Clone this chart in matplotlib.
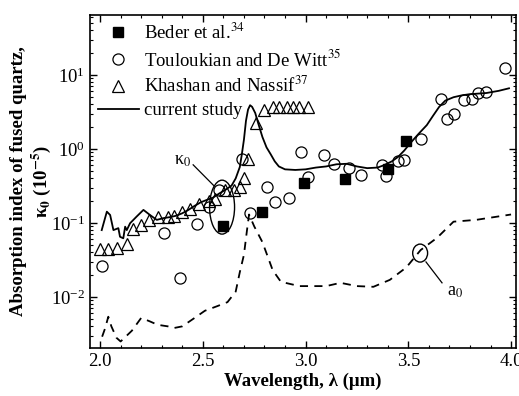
# Imports
import numpy as np
import matplotlib
matplotlib.use('Agg')
import matplotlib.pyplot as plt
from matplotlib.patches import Ellipse
from matplotlib.ticker import LogLocator, MultipleLocator, NullFormatter

# Data
beder_x = [2.60, 2.79, 2.99, 3.19, 3.40, 3.49]
beder_y = [0.091, 0.14, 0.35, 0.39, 0.54, 1.28]

toul_x = [2.01, 2.31, 2.39, 2.47, 2.53, 2.58, 2.69, 2.73, 2.81, 2.85, 2.92, 2.98, 3.01,
          3.09, 3.14, 3.21, 3.27, 3.37, 3.39, 3.45, 3.48, 3.56, 3.66, 3.69, 3.72, 3.77,
          3.81, 3.84, 3.88, 3.97]
toul_y = [0.026, 0.073, 0.018, 0.098, 0.166, 0.28, 0.73, 0.137, 0.31, 0.19, 0.22, 0.91, 0.42,
          0.83, 0.63, 0.55, 0.44, 0.60, 0.43, 0.69, 0.71, 1.36, 4.8, 2.5, 2.96, 4.6,
          4.8, 5.7, 5.9, 12.4]

khas_x = [2.00, 2.04, 2.08, 2.13, 2.16, 2.20, 2.24, 2.28, 2.33, 2.36, 2.40, 2.44, 2.48,
          2.53, 2.56, 2.61, 2.65, 2.68, 2.70, 2.72, 2.76, 2.80, 2.84, 2.87, 2.91, 2.94,
          2.97, 3.01]
khas_y = [0.045, 0.045, 0.046, 0.052, 0.083, 0.094, 0.11, 0.12, 0.12, 0.126, 0.14, 0.155, 0.18,
          0.20, 0.21, 0.28, 0.28, 0.31, 0.41, 0.73, 2.24, 3.4, 3.7, 3.7, 3.7, 3.7,
          3.7, 3.7]

study_x = [2.008, 2.033, 2.049, 2.065, 2.089, 2.097, 2.113, 2.122, 2.13, 2.146, 2.178, 2.211,
           2.243, 2.276, 2.308, 2.341, 2.37, 2.40, 2.43, 2.46, 2.49, 2.52, 2.55, 2.58, 2.61,
           2.64, 2.66, 2.68, 2.69, 2.70, 2.71, 2.72, 2.73, 2.74, 2.755, 2.77, 2.79, 2.81,
           2.83, 2.85, 2.87, 2.90, 2.95, 3.00, 3.05, 3.10, 3.15, 3.20, 3.25, 3.30, 3.35,
           3.38, 3.42, 3.45, 3.48, 3.51, 3.55, 3.59, 3.62, 3.65, 3.68, 3.72, 3.76, 3.80,
           3.88, 3.94, 3.99]
study_y = [0.080, 0.142, 0.128, 0.080, 0.085, 0.065, 0.062, 0.089, 0.080, 0.099, 0.122, 0.150,
           0.128, 0.11, 0.116, 0.12, 0.125, 0.135, 0.15, 0.17, 0.19, 0.205, 0.22, 0.25, 0.28,
           0.32, 0.40, 0.57, 0.85, 1.33, 2.4, 3.4, 3.9, 3.7, 3.06, 2.2, 1.45, 1.05,
           0.85, 0.68, 0.58, 0.53, 0.52, 0.53, 0.56, 0.58, 0.62, 0.63, 0.58, 0.55, 0.56,
           0.60, 0.68, 0.78, 0.95, 1.2, 1.6, 2.1, 2.8, 3.7, 4.5, 5.0, 5.3, 5.5,
           5.7, 6.1, 6.6]

a0_x = [2.01, 2.025, 2.04, 2.055, 2.08, 2.10, 2.13, 2.155, 2.20, 2.24, 2.28, 2.33, 2.36,
        2.40, 2.46, 2.51, 2.57, 2.62, 2.66, 2.68, 2.70, 2.715, 2.725, 2.75, 2.79, 2.84,
        2.88, 2.97, 3.10, 3.17, 3.25, 3.33, 3.41, 3.49, 3.56, 3.64, 3.72, 3.83, 4.00]
a0_y = [0.0029, 0.0038, 0.0054, 0.004, 0.0028, 0.0025, 0.003, 0.0035, 0.0052, 0.0047,
        0.0042, 0.004, 0.0038, 0.004, 0.0052, 0.0065, 0.0075, 0.0085, 0.0118, 0.0216,
        0.037, 0.08, 0.13, 0.09, 0.055, 0.023, 0.016, 0.014, 0.014, 0.0155, 0.014,
        0.0137, 0.017, 0.025, 0.043, 0.063, 0.104, 0.11, 0.13]

# Style
plt.rcParams['font.family'] = ['Liberation Serif', 'DejaVu Serif']
plt.rcParams['mathtext.fontset'] = 'stix'
plt.rcParams['font.size'] = 13.5

fig = plt.figure(figsize=(5.19, 3.96), dpi=100)
ax = fig.add_axes([90 / 519, 1 - 348 / 396, 426 / 519, 333 / 396])

# Plot
ax.plot(beder_x, beder_y, 's', color='black', markersize=7, label='Beder et al.$^{34}$')
ax.plot(toul_x, toul_y, 'o', mfc='none', mec='black', mew=0.9, markersize=8,
        label='Touloukian and De Witt$^{35}$')
ax.plot(khas_x, khas_y, '^', mfc='none', mec='black', mew=0.9, markersize=8.5,
        label='Khashan and Nassif$^{37}$')
ax.plot(study_x, study_y, '-', color='black', lw=1.3, label='current study')
ax.plot(a0_x, a0_y, '--', color='black', lw=1.3, dashes=(4.5, 3.5))

ax.set_yscale('log')
ax.set_xlim(1.951, 4.024)
ax.set_ylim(0.00204, 64.6)

ax.xaxis.set_major_locator(MultipleLocator(0.5))
ax.xaxis.set_minor_locator(MultipleLocator(0.1))
ax.xaxis.set_major_formatter(matplotlib.ticker.FormatStrFormatter('%.1f'))
ax.yaxis.set_major_locator(LogLocator(base=10, numticks=10))
ax.yaxis.set_minor_locator(LogLocator(base=10, subs=np.arange(2, 10), numticks=10))
ax.yaxis.set_minor_formatter(NullFormatter())
ax.tick_params(which='both', direction='in', top=True, right=True, labelsize=13.5)
ax.tick_params(which='major', length=5, width=1)
ax.tick_params(which='minor', length=2.5, width=0.8)
for s in ax.spines.values():
    s.set_linewidth(1.2)

ax.set_xlabel('Wavelength, λ (μm)', fontweight='bold', fontsize=13.5, labelpad=2)
ax.set_ylabel('Absorption index of fused quartz,\nκ$_\\mathbf{0}$ (10$^{\\mathbf{-5}}$)',
              fontweight='bold', fontsize=13.5, linespacing=1.1)
ax.yaxis.set_label_coords(-0.088, 0.5)

# Annotations
ax.add_patch(Ellipse((0.31, 0.423), 0.0587, 0.162, transform=ax.transAxes,
                     fill=False, ec='black', lw=1))
ax.plot([2.453, 2.555], [0.61, 0.316], color='black', lw=0.9)
ax.text(2.40, 0.69, 'κ$_0$', ha='center', va='center', fontsize=13)

ax.add_patch(Ellipse((0.775, 0.285), 0.035, 0.054, transform=ax.transAxes,
                     fill=False, ec='black', lw=1))
ax.plot([3.586, 3.664], [0.0297, 0.0155], color='black', lw=0.9)
ax.text(3.727, 0.0117, 'a$_0$', ha='center', va='center', fontsize=13)

ax.legend(loc='upper left', frameon=False, fontsize=13.5, handlelength=2.2,
          handletextpad=0.3, labelspacing=0.32, borderaxespad=0.1, borderpad=0.3)

fig.savefig('out.png', dpi=100)
